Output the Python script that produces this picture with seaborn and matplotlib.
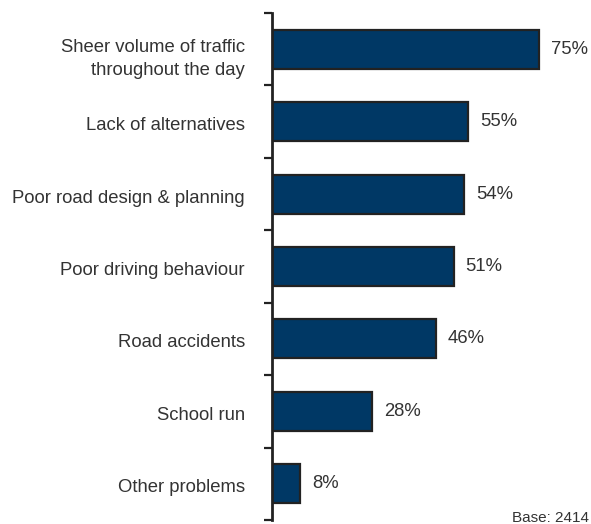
import matplotlib
matplotlib.use("Agg")
import matplotlib.pyplot as plt
import matplotlib.transforms as mtransforms
import seaborn as sns
import pandas as pd
import numpy as np

# chart data
categories = [
    "Sheer volume of traffic\nthroughout the day",
    "Lack of alternatives",
    "Poor road design & planning",
    "Poor driving behaviour",
    "Road accidents",
    "School run",
    "Other problems",
]
values = [75, 55, 54, 51, 46, 28, 8]
base_note = "Base: 2414"

sns.set_style("white")
plt.rcParams["font.family"] = ["Liberation Sans", "DejaVu Sans"]

df = pd.DataFrame({"problem": categories, "pct": values})

W, H = 591, 524
fig = plt.figure(figsize=(W / 100, H / 100), dpi=100)
left_px, top_px, bottom_px = 272, 13, 520
ax = fig.add_axes([left_px / W, 1 - bottom_px / H, 1 - left_px / W, (bottom_px - top_px) / H])

sns.barplot(data=df, x="pct", y="problem", orient="h", color="#003865",
            width=0.54, edgecolor="#222222", linewidth=1.6, ax=ax, saturation=1)

ax.set_xlim(0, (W - left_px) / 3.56)
ax.set_ylim(len(categories) - 0.5, -0.5)
ax.set_xlabel("")
ax.set_ylabel("")
ax.set_xticks([])

for s in ["top", "right", "bottom"]:
    ax.spines[s].set_visible(False)
ax.spines["left"].set_linewidth(2)
ax.spines["left"].set_color("#222222")

ax.set_yticks(range(len(categories)))
ax.set_yticklabels(categories, fontsize=13.3, color="#333333", linespacing=1.45)
ax.tick_params(axis="y", which="major", left=False, length=0, pad=26)
ax.set_yticks(np.arange(-0.5, len(categories)), minor=True)
ax.tick_params(axis="y", which="minor", left=True, length=6, width=1.6, color="#222222")

# the two-line label sits a little lower than its bar in the original
lbl = ax.get_yticklabels()[0]
lbl.set_transform(lbl.get_transform() + mtransforms.ScaledTranslation(0.09, -0.05, fig.dpi_scale_trans))
for lbl in ax.get_yticklabels()[1:]:
    lbl.set_transform(lbl.get_transform() + mtransforms.ScaledTranslation(0.09, -0.02, fig.dpi_scale_trans))

for i, v in enumerate(values):
    ax.text(v + 3.4, i, f"{v}%", va="center", ha="left", fontsize=13.3, color="#333333")

fig.text(512 / W, 1 - 522 / H, base_note, fontsize=11, color="#333333", va="baseline", ha="left")

fig.savefig("out.png", dpi=100)
